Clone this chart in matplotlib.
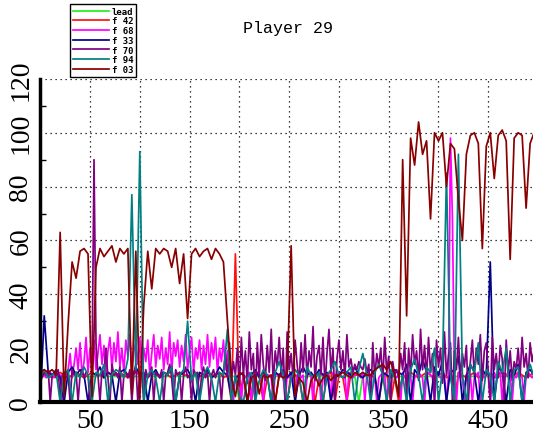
import numpy as np
import matplotlib
matplotlib.use("Agg")
import matplotlib.pyplot as plt
from matplotlib.ticker import MultipleLocator, FixedLocator

# frame index: most players sampled every 4 frames, the busy ones every 2
frames4 = np.arange(0, 500, 4)
frames2 = np.arange(0, 500, 2)

lead = [
    9.5, 9.5, 9.5, 9.5, 9.5, 9.5, 9.5, 9.5, 9.5, 9.5,
    9.5, 9.5, 9.5, 9.5, 9.5, 9.5, 9.5, 9.5, 9.5, 9.5,
    9.5, 9.5, 9.5, 9.5, 9.5, 9.5, 9.5, 9.5, 9.5, 9.5,
    9.5, 9.5, 9.5, 9.5, 9.5, 9.5, 9.5, 9.5, 9.5, 9.5,
    9.5, 9.5, 9.5, 9.5, 9.5, 9.5, 9.5, 9.5, 9.5, 9.5,
    0, 9.5, 0, 9.5, 9.5, 9.5, 9.5, 9.5, 9.5, 9.5,
    9.5, 9.5, 9.5, 9.5, 9.5, 9.5, 9.5, 9.5, 9.5, 9.5,
    9.5, 9.5, 9.5, 9.5, 9.5, 9.5, 9.5, 9.5, 9.5, 9.5,
    0, 9.5, 9.5, 9.5, 9.5, 0, 9.5, 9.5, 9.5, 9.5,
    9.5, 9.5, 9.5, 9.5, 9.5, 9.5, 9.5, 9.5, 9.5, 9.5,
    9.5, 9.5, 9.5, 9.5, 9.5, 9.5, 9.5, 9.5, 9.5, 9.5,
    9.5, 9.5, 9.5, 9.5, 9.5, 9.5, 9.5, 9.5, 9.5, 9.5,
    9.5, 9.5, 9.5, 9.5, 9.5,
]

f42 = [
    10, 11, 10, 9, 10, 11, 10, 9, 10, 11,
    10, 9, 10, 11, 10, 10, 9, 11, 10, 10,
    11, 10, 9, 10, 11, 10, 10, 9, 11, 10,
    10, 11, 10, 9, 10, 11, 10, 10, 9, 11,
    10, 9, 11, 10, 10, 11, 9, 10, 0, 55,
    0, 10, 9, 0, 11, 10, 0, 9, 10, 0,
    10, 9, 0, 11, 10, 9, 0, 10, 11, 0,
    9, 0, 10, 11, 0, 10, 9, 0, 11, 10,
    10, 9, 11, 10, 9, 0, 10, 11, 0, 9,
    0, 10, 9, 11, 10, 9, 10, 11, 10, 9,
    10, 11, 9, 10, 0, 11, 10, 9, 10, 11,
    9, 10, 11, 10, 9, 10, 11, 10, 9, 10,
    11, 10, 9, 10, 11,
]

# sampled every 2 frames
f68 = [
    10, 11, 10, 9, 10, 11, 10, 9, 10, 11,
    10, 0, 11, 10, 12, 18, 9, 14, 20, 12,
    22, 10, 15, 24, 11, 20, 13, 23, 12, 18,
    25, 14, 21, 10, 19, 24, 12, 22, 15, 26,
    13, 20, 11, 23, 17, 25, 12, 19, 22, 14,
    24, 11, 20, 15, 23, 10, 18, 25, 13, 21,
    16, 24, 12, 20, 14, 26, 11, 22, 17, 23,
    13, 21, 15, 25, 12, 19, 24, 11, 20, 16,
    23, 12, 21, 14, 25, 13, 22, 16, 24, 11,
    20, 15, 23, 12, 19, 10, 9, 0, 10, 9,
    11, 0, 10, 9, 10, 11, 0, 10, 9, 11,
    10, 9, 0, 11, 10, 10, 9, 0, 11, 10,
    9, 11, 10, 0, 10, 9, 11, 10, 0, 10,
    11, 9, 10, 0, 10, 11, 9, 0, 10, 11,
    10, 0, 9, 11, 10, 10, 0, 11, 9, 10,
    11, 10, 9, 10, 0, 11, 10, 9, 10, 11,
    10, 9, 11, 0, 10, 10, 9, 11, 10, 0,
    9, 10, 11, 10, 0, 9, 10, 11, 10, 9,
    10, 0, 11, 9, 10, 11, 10, 0, 9, 10,
    11, 10, 9, 0, 10, 11, 10, 9, 0, 11,
    10, 9, 11, 10, 0, 10, 98, 68, 10, 0,
    11, 10, 9, 0, 10, 11, 10, 0, 9, 10,
    11, 0, 10, 9, 11, 10, 0, 10, 11, 9,
    10, 11, 0, 9, 10, 11, 10, 0, 10, 9,
    11, 10, 9, 0, 10, 11, 10, 9, 10, 11,
]

f33 = [
    0, 32, 11, 10, 12, 9, 0, 11, 13, 10,
    12, 10, 0, 11, 10, 13, 9, 11, 10, 0,
    11, 12, 10, 9, 13, 10, 11, 0, 10, 12,
    9, 11, 10, 13, 0, 10, 11, 12, 9, 0,
    11, 10, 12, 9, 10, 13, 11, 10, 2, 9,
    10, 11, 0, 10, 12, 9, 11, 10, 0, 11,
    10, 12, 9, 11, 0, 10, 13, 10, 11, 9,
    12, 10, 11, 0, 9, 10, 12, 11, 10, 13,
    10, 9, 11, 12, 10, 0, 11, 10, 9, 12,
    11, 10, 14, 0, 12, 10, 16, 11, 0, 13,
    10, 15, 0, 12, 11, 17, 0, 10, 14, 11,
    0, 12, 10, 52, 0, 13, 11, 0, 12, 10,
    14, 0, 11, 12, 10,
]

# sampled every 2 frames
f70 = [
    10, 9, 11, 10, 12, 0, 10, 11, 9, 12,
    0, 10, 11, 9, 10, 0, 12, 10, 11, 0,
    10, 12, 9, 11, 10, 0, 11, 90, 22, 10,
    0, 12, 10, 20, 9, 0, 14, 10, 11, 9,
    13, 0, 10, 11, 9, 12, 0, 10, 14, 0,
    11, 10, 0, 12, 9, 10, 13, 0, 11, 10,
    9, 12, 0, 10, 11, 14, 9, 0, 12, 10,
    11, 0, 10, 13, 9, 10, 0, 12, 10, 11,
    0, 10, 13, 9, 11, 0, 10, 12, 9, 11,
    10, 0, 11, 18, 9, 22, 8, 15, 10, 20,
    6, 24, 10, 19, 7, 26, 12, 18, 0, 22,
    9, 25, 14, 8, 21, 11, 27, 7, 19, 13,
    24, 10, 20, 0, 26, 12, 18, 9, 23, 14,
    7, 22, 11, 25, 9, 19, 13, 28, 8, 17,
    21, 10, 24, 6, 18, 27, 11, 20, 0, 16,
    23, 12, 19, 9, 25, 13, 16, 11, 14, 12,
    15, 13, 12, 16, 11, 14, 0, 22, 9, 18,
    13, 20, 8, 24, 11, 17, 0, 15, 10, 12,
    9, 18, 12, 22, 0, 20, 10, 25, 14, 19,
    8, 27, 12, 21, 9, 24, 11, 18, 0, 23,
    13, 20, 7, 26, 10, 17, 22, 0, 19, 12,
    24, 9, 18, 13, 21, 0, 15, 23, 10, 20,
    14, 25, 8, 19, 22, 11, 0, 24, 12, 18,
    9, 21, 16, 0, 23, 11, 19, 8, 15, 12,
    20, 10, 24, 13, 18, 9, 22, 15, 19, 16,
]

f94 = [
    10, 12, 9, 10, 11, 0, 10, 12, 0, 11,
    9, 13, 10, 0, 11, 10, 14, 0, 10, 12,
    11, 9, 16, 77, 12, 93, 0, 10, 12, 9,
    0, 11, 10, 13, 0, 10, 12, 30, 8, 11,
    0, 10, 13, 9, 0, 11, 10, 27, 0, 10,
    2, 0, 9, 11, 0, 8, 12, 10, 0, 11,
    15, 10, 0, 9, 12, 10, 0, 13, 10, 9,
    11, 0, 10, 12, 15, 10, 9, 11, 13, 0,
    12, 18, 10, 0, 11, 14, 10, 0, 12, 9,
    3, 10, 0, 12, 16, 10, 0, 13, 11, 20,
    0, 12, 85, 10, 0, 92, 10, 0, 14, 11,
    22, 0, 12, 10, 0, 15, 11, 20, 0, 12,
    13, 0, 10, 14, 9,
]

f03 = [
    11, 12, 11, 12, 10, 63, 2, 29, 52, 46,
    56, 57, 55, 2, 50, 57, 54, 56, 58, 52,
    57, 55, 57, 3, 56, 1, 36, 56, 42, 57,
    55, 57, 56, 50, 57, 44, 55, 31, 55, 57,
    54, 56, 57, 53, 57, 55, 52, 30, 9, 2,
    11, 10, 0, 9, 10, 3, 10, 9, 10, 0,
    10, 9, 10, 58, 2, 9, 7, 0, 8, 10,
    6, 9, 10, 8, 10, 10, 11, 10, 9, 11,
    10, 11, 10, 10, 12, 13, 14, 12, 15, 10,
    2, 90, 32, 98, 88, 104, 92, 97, 68, 100,
    97, 100, 80, 96, 94, 75, 60, 92, 99, 100,
    96, 57, 95, 100, 83, 99, 101, 97, 53, 98,
    100, 99, 72, 96, 100,
]

labels = ["lead", "f 42", "f 68", "f 33", "f 70", "f 94", "f 03"]
series = [lead, f42, f68, f33, f70, f94, f03]
colors = ["#22ee22", "#ff1010", "#ff00ff", "#000088", "#800080", "#008080", "#880000"]

fig = plt.figure(figsize=(5.33, 4.39), dpi=100)
ax = fig.add_axes([0.0755, 0.082, 0.934, 0.736])

lines = []
for vals, lab, c in zip(series, labels, colors):
    xs = frames2 if len(vals) == len(frames2) else frames4
    ln, = ax.plot(xs, vals, color=c, lw=1.25, label=lab)
    lines.append(ln)

ax.set_xlim(0, 500)
ax.set_ylim(0, 120)

ax.xaxis.set_major_locator(FixedLocator([50, 150, 250, 350, 450]))
ax.xaxis.set_minor_locator(FixedLocator([100, 200, 300, 400]))
ax.yaxis.set_major_locator(MultipleLocator(20))
ax.yaxis.set_minor_locator(MultipleLocator(10))

dots = (0, (1, 3))
ax.grid(True, which="both", axis="x", color="black", linestyle=dots, lw=0.9)
ax.grid(True, which="major", axis="y", color="black", linestyle=dots, lw=0.9)

tick_font = {"family": "Liberation Serif", "size": 20}
ax.set_xticklabels(["50", "150", "250", "350", "450"], fontdict=tick_font)
ax.set_yticks(np.arange(0, 121, 20))
ax.set_yticklabels([str(v) for v in range(0, 121, 20)], fontdict=tick_font,
                   rotation=90, va="center")
ax.tick_params(axis="x", which="both", length=0, pad=4)
ax.tick_params(axis="y", which="major", length=0, pad=5)
ax.tick_params(axis="y", which="minor", direction="in", length=4, width=1)

for side in ("top", "right"):
    ax.spines[side].set_visible(False)
ax.spines["left"].set_linewidth(2.5)
ax.spines["bottom"].set_linewidth(3)

fig.text(288 / 533, 1 - 28 / 439, "Player 29", ha="center", va="center",
         family="Liberation Mono", fontsize=12)

leg = fig.legend(handles=lines, loc="upper left",
                 bbox_to_anchor=(70 / 533, 1 - 5 / 439), borderaxespad=0,
                 prop={"family": "DejaVu Sans Mono", "weight": "bold", "size": 6.5},
                 handlelength=4.0, handletextpad=0.3, labelspacing=0.08,
                 borderpad=0.3, fancybox=False, framealpha=1)
leg.get_frame().set_edgecolor("black")
leg.get_frame().set_linewidth(1.0)

fig.savefig("out.png", dpi=100)
